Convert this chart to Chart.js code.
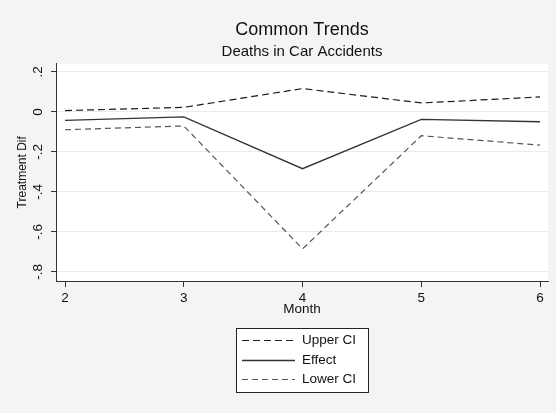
<!DOCTYPE html>
<html>
<head>
<meta charset="utf-8">
<script src="https://cdn.jsdelivr.net/npm/chart.js@4/dist/chart.umd.min.js"></script>
<style>
  body { margin: 0; background: #f4f4f4; }
  #wrap { width: 556px; height: 413px; }
</style>
</head>
<body>
<div id="wrap"><canvas id="grafico" width="556" height="413"></canvas></div>
<script>
// dados
const meses = [2, 3, 4, 5, 6];
const upperCI = [0.007, 0.023, 0.117, 0.045, 0.075];
const efeito = [-0.042, -0.025, -0.284, -0.037, -0.049];
const lowerCI = [-0.089, -0.070, -0.685, -0.119, -0.166];

const xTicks = [2, 3, 4, 5, 6];
const yTicks = [-0.8, -0.6, -0.4, -0.2, 0, 0.2];
const yTickLabels = ['-.8', '-.6', '-.4', '-.2', '0', '.2'];

const fonte = 'Liberation Sans, Arial, sans-serif';

function pontos(valores) {
  return meses.map((m, i) => ({ x: m, y: valores[i] }));
}

// fundo cinza e area do grafico branca
const fundo = {
  id: 'fundo',
  beforeDraw(chart) {
    const ctx = chart.ctx;
    const a = chart.chartArea;
    ctx.save();
    ctx.fillStyle = '#f4f4f4';
    ctx.fillRect(0, 0, chart.width, chart.height);
    ctx.fillStyle = '#ffffff';
    ctx.fillRect(a.left, a.top, a.right - a.left, a.bottom - a.top);
    ctx.restore();
  }
};

// legenda com caixa, uma entrada por linha
const legendaCaixa = {
  id: 'legendaCaixa',
  afterDraw(chart) {
    const ctx = chart.ctx;
    const a = chart.chartArea;
    const cx = (a.left + a.right) / 2;
    const w = 132, h = 64;
    const left = cx - w / 2, top = a.bottom + 47;
    ctx.save();
    ctx.fillStyle = '#ffffff';
    ctx.fillRect(left, top, w, h);
    ctx.strokeStyle = '#222';
    ctx.lineWidth = 1;
    ctx.strokeRect(Math.round(left) + 0.5, Math.round(top) + 0.5, w, h);
    ctx.font = '13.5px ' + fonte;
    ctx.textBaseline = 'middle';
    ctx.fillStyle = '#111';
    chart.data.datasets.forEach((ds, i) => {
      const y = Math.round(top + 12 + i * 19.6) + 0.5;
      ctx.beginPath();
      ctx.setLineDash(ds.borderDash || []);
      ctx.strokeStyle = ds.borderColor;
      ctx.lineWidth = ds.borderWidth;
      ctx.moveTo(left + 6, y);
      ctx.lineTo(left + 59, y);
      ctx.stroke();
      ctx.setLineDash([]);
      ctx.fillText(ds.label, left + 66, y);
    });
    ctx.restore();
  }
};

const grafico = new Chart(document.getElementById('grafico'), {
  type: 'line',
  data: {
    datasets: [
      { label: 'Upper CI', data: pontos(upperCI), borderColor: '#1e1e1e', borderWidth: 1.2, borderDash: [7, 4] },
      { label: 'Effect', data: pontos(efeito), borderColor: '#333333', borderWidth: 1.3 },
      { label: 'Lower CI', data: pontos(lowerCI), borderColor: '#555555', borderWidth: 1.2, borderDash: [6, 4] }
    ]
  },
  options: {
    responsive: false,
    animation: false,
    elements: { point: { radius: 0 }, line: { tension: 0, fill: false } },
    layout: { padding: { left: 0, right: 8, top: 0, bottom: 92 } },
    plugins: {
      legend: { display: false },
      tooltip: { enabled: false },
      title: {
        display: true, text: 'Common Trends', fullSize: false, color: '#111',
        font: { family: fonte, size: 18, weight: 'normal', lineHeight: 1.2 },
        padding: { top: 19, bottom: 2 }
      },
      subtitle: {
        display: true, text: 'Deaths in Car Accidents', fullSize: false, color: '#111',
        font: { family: fonte, size: 15, weight: 'normal', lineHeight: 1.2 },
        padding: { top: 0, bottom: 3 }
      }
    },
    scales: {
      x: {
        type: 'linear', min: 1.924, max: 6.067,
        afterBuildTicks: (s) => { s.ticks = xTicks.map(v => ({ value: v })); },
        afterFit: (s) => { s.height = 40; },
        grid: { drawOnChartArea: false, drawTicks: true, tickLength: 6, tickColor: '#333' },
        border: { color: '#333', width: 1 },
        ticks: { color: '#111', padding: 3, font: { family: fonte, size: 13.5 }, maxRotation: 0 },
        title: { display: true, text: 'Month', color: '#111', font: { family: fonte, size: 13.5 }, padding: { top: 0, bottom: 4 } }
      },
      y: {
        type: 'linear', min: -0.846, max: 0.242,
        afterBuildTicks: (s) => { s.ticks = yTicks.map(v => ({ value: v })); },
        afterFit: (s) => { s.width = 56; },
        grid: { color: '#ebebeb', lineWidth: 1, tickLength: 5, tickColor: '#333' },
        border: { color: '#333', width: 1 },
        ticks: {
          color: '#111', padding: 5, autoSkip: false, minRotation: 90, maxRotation: 90, crossAlign: 'center',
          font: { family: fonte, size: 13.5 },
          callback: (v) => yTickLabels[yTicks.indexOf(v)] ?? ''
        },
        title: { display: true, text: 'Treatment Dif', color: '#111', font: { family: fonte, size: 12 }, padding: { top: 15, bottom: 0 } }
      }
    }
  },
  plugins: [fundo, legendaCaixa]
});
</script>
</body>
</html>
